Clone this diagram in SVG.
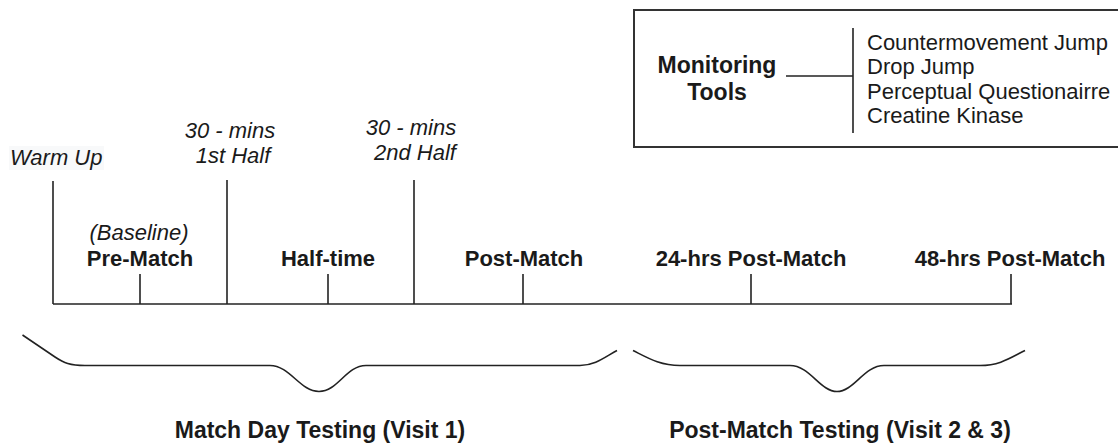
<svg xmlns="http://www.w3.org/2000/svg" width="1118" height="444" viewBox="0 0 1118 444">
<style>
.ln{stroke:#222;stroke-width:1.6;fill:none}
.it{font-family:"Liberation Sans",Arial,sans-serif;font-style:italic;font-size:22px;fill:#1a1a1a}
.rg{font-family:"Liberation Sans",Arial,sans-serif;font-size:22px;fill:#1a1a1a}
.bd{font-family:"Liberation Sans",Arial,sans-serif;font-weight:bold;font-size:22px;fill:#1a1a1a;text-anchor:middle}
.bl{font-family:"Liberation Sans",Arial,sans-serif;font-weight:bold;font-size:23px;fill:#1a1a1a;text-anchor:middle}
</style>
<rect width="1118" height="444" fill="#fff"/>
<g id="legend">
<rect x="634" y="10" width="490" height="137" fill="none" stroke="#333" stroke-width="2"/>
<text class="bl" x="717" y="73">Monitoring</text>
<text class="bl" x="717" y="100">Tools</text>
<line class="ln" x1="786" y1="76" x2="853" y2="76"/>
<line class="ln" x1="853" y1="28" x2="853" y2="133"/>
<text class="rg" x="867" y="50">Countermovement Jump</text>
<text class="rg" x="867" y="74">Drop Jump</text>
<text class="rg" x="867" y="99">Perceptual Questionairre</text>
<text class="rg" x="867" y="123">Creatine Kinase</text>
</g>
<g id="connectors">
<line class="ln" x1="53" y1="304" x2="1012" y2="304"/>
<line class="ln" x1="53" y1="181" x2="53" y2="304"/>
<line class="ln" x1="227" y1="180" x2="227" y2="304"/>
<line class="ln" x1="414" y1="180" x2="414" y2="304"/>
<line class="ln" x1="140" y1="274" x2="140" y2="304"/>
<line class="ln" x1="328" y1="274" x2="328" y2="304"/>
<line class="ln" x1="523" y1="274" x2="523" y2="304"/>
<line class="ln" x1="751" y1="274" x2="751" y2="304"/>
<line class="ln" x1="1011" y1="274" x2="1011" y2="304"/>
<path class="ln" d="M 22.5 335 L 55 357 C 64 363, 70 365.5, 85 365.5 L 270 365.5 C 290 365.5, 300 391.5, 319 391.5 C 338 391.5, 346 365.5, 366 365.5 L 580 365.5 C 595 365.5, 605 357, 617 350.5"/>
<path class="ln" d="M 633 350.5 C 648 358, 660 365.5, 680 365.5 L 790 365.5 C 810 365.5, 820 391.5, 837 391.5 C 854 391.5, 864 365.5, 884 365.5 L 980 365.5 C 1000 365.5, 1010 358, 1025 350.5"/>
</g>
<g id="warmup">
<rect x="9" y="146" width="95" height="24" fill="#f8f9fa"/>
<text class="it" x="10" y="165">Warm Up</text>
</g>
<g id="first-half">
<text class="it" x="230" y="138" text-anchor="middle">30 - mins</text>
<text class="it" x="233" y="163" text-anchor="middle">1st Half</text>
</g>
<g id="second-half">
<text class="it" x="411" y="135" text-anchor="middle">30 - mins</text>
<text class="it" x="415" y="160" text-anchor="middle">2nd Half</text>
</g>
<g id="pre-match">
<text class="it" x="139" y="240" text-anchor="middle">(Baseline)</text>
<text class="bd" x="140" y="266">Pre-Match</text>
</g>
<g id="half-time"><text class="bd" x="328" y="266">Half-time</text></g>
<g id="post-match"><text class="bd" x="524" y="266">Post-Match</text></g>
<g id="post-24"><text class="bd" x="751" y="266">24-hrs Post-Match</text></g>
<g id="post-48"><text class="bd" x="1010" y="266">48-hrs Post-Match</text></g>
<g id="match-day"><text class="bl" x="320" y="438">Match Day Testing (Visit 1)</text></g>
<g id="post-match-testing"><text class="bl" x="840" y="438">Post-Match Testing (Visit 2 &amp; 3)</text></g>
</svg>
